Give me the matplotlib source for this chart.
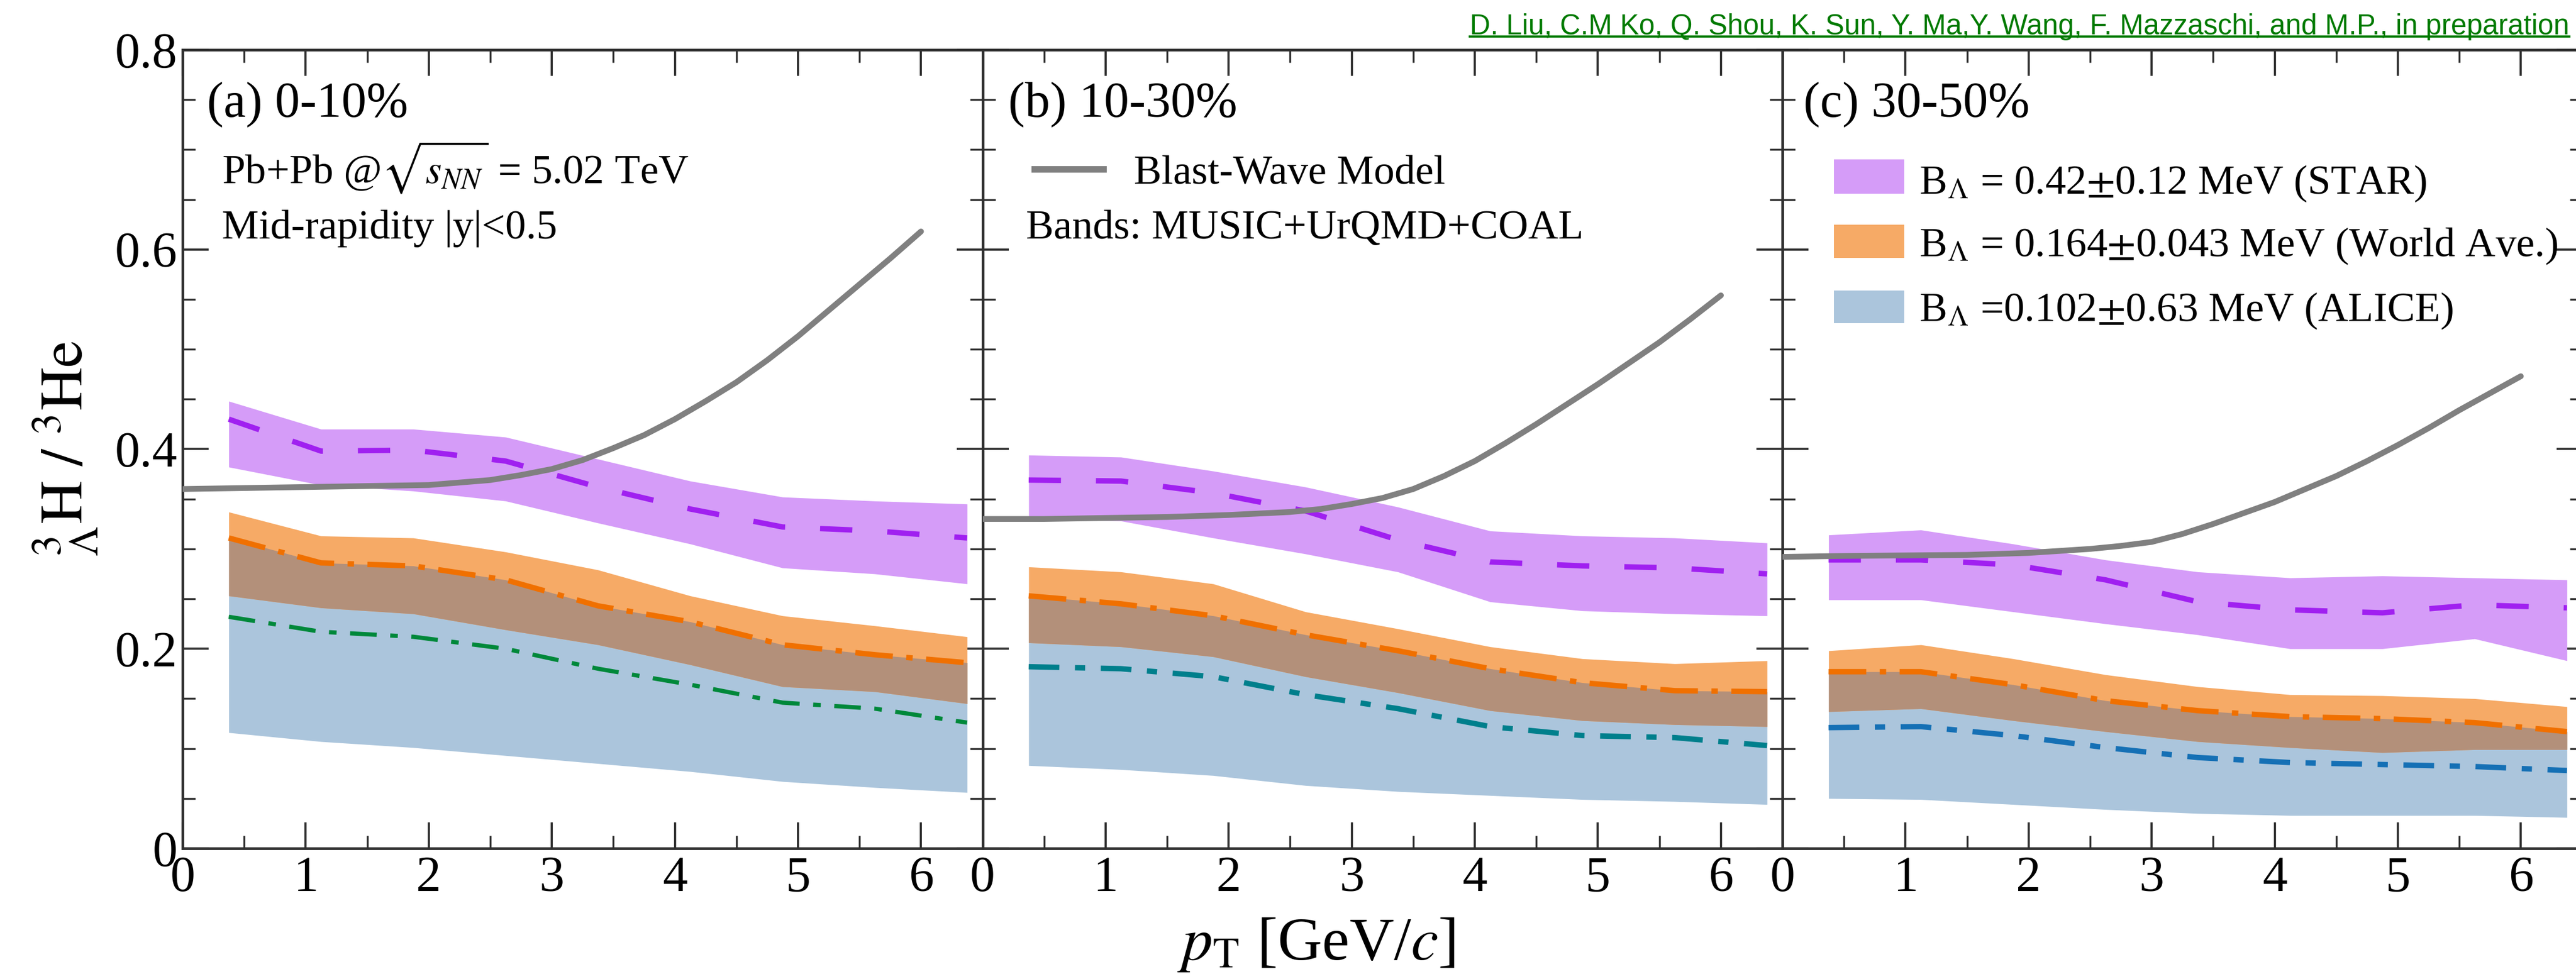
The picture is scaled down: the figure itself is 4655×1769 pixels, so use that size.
import numpy as np
import matplotlib
matplotlib.use('Agg')
import matplotlib.pyplot as plt
from matplotlib.ticker import MultipleLocator, FuncFormatter
from matplotlib.patches import Rectangle
from matplotlib.lines import Line2D

plt.rcParams['font.family'] = ['Liberation Serif', 'DejaVu Serif']
plt.rcParams['mathtext.fontset'] = 'stix'

# ── data ─────────────────────────────────────────────────────────────────────
panel_tags = ['(a) 0-10%', '(b) 10-30%', '(c) 30-50%']

# pT nodes of the coalescence bands
pt_nodes = [0.375, 1.125, 1.875, 2.625, 3.375, 4.125, 4.875, 5.625, 6.375]

# B_Λ = 0.42 MeV (STAR)
star_hi = [[0.448, 0.420, 0.420, 0.412, 0.390, 0.368, 0.352, 0.348, 0.345],
           [0.394, 0.392, 0.378, 0.362, 0.342, 0.318, 0.313, 0.311, 0.306],
           [0.314, 0.319, 0.305, 0.289, 0.277, 0.271, 0.273, 0.271, 0.269]]
star_mid = [[0.430, 0.398, 0.399, 0.388, 0.362, 0.340, 0.322, 0.318, 0.311],
            [0.369, 0.368, 0.356, 0.338, 0.309, 0.287, 0.283, 0.281, 0.275],
            [0.289, 0.289, 0.284, 0.269, 0.247, 0.239, 0.236, 0.244, 0.241]]
star_lo = [[0.382, 0.364, 0.358, 0.348, 0.326, 0.305, 0.281, 0.275, 0.265],
           [0.330, 0.328, 0.311, 0.295, 0.277, 0.247, 0.238, 0.235, 0.233],
           [0.249, 0.249, 0.237, 0.225, 0.214, 0.200, 0.200, 0.210, 0.188]]

# B_Λ = 0.164 MeV (world average)
world_hi = [[0.337, 0.313, 0.311, 0.297, 0.279, 0.253, 0.233, 0.223, 0.212],
            [0.282, 0.277, 0.265, 0.237, 0.220, 0.202, 0.190, 0.185, 0.188],
            [0.198, 0.204, 0.190, 0.174, 0.162, 0.154, 0.153, 0.150, 0.142]]
world_mid = [[0.311, 0.286, 0.283, 0.269, 0.243, 0.227, 0.204, 0.194, 0.186],
             [0.253, 0.245, 0.233, 0.214, 0.198, 0.180, 0.166, 0.158, 0.157],
             [0.177, 0.177, 0.164, 0.148, 0.138, 0.132, 0.130, 0.126, 0.117]]
world_lo = [[0.253, 0.241, 0.235, 0.219, 0.204, 0.184, 0.162, 0.157, 0.145],
            [0.206, 0.202, 0.192, 0.172, 0.156, 0.138, 0.128, 0.124, 0.122],
            [0.137, 0.140, 0.128, 0.117, 0.107, 0.101, 0.096, 0.099, 0.099]]

# B_Λ = 0.102 MeV (ALICE)
alice_hi = [[0.311, 0.286, 0.283, 0.269, 0.243, 0.227, 0.204, 0.194, 0.186],
            [0.253, 0.245, 0.233, 0.214, 0.198, 0.180, 0.166, 0.158, 0.157],
            [0.177, 0.177, 0.164, 0.148, 0.138, 0.132, 0.130, 0.126, 0.117]]
alice_mid = [[0.232, 0.217, 0.212, 0.200, 0.180, 0.164, 0.146, 0.140, 0.126],
             [0.182, 0.180, 0.172, 0.154, 0.140, 0.122, 0.113, 0.111, 0.103],
             [0.121, 0.122, 0.113, 0.101, 0.091, 0.086, 0.084, 0.082, 0.078]]
alice_lo = [[0.116, 0.107, 0.101, 0.093, 0.085, 0.077, 0.067, 0.061, 0.056],
            [0.083, 0.079, 0.073, 0.063, 0.057, 0.053, 0.049, 0.047, 0.044],
            [0.050, 0.049, 0.044, 0.039, 0.035, 0.033, 0.033, 0.033, 0.031]]

# blast-wave curves
bw_pt = [0, 0.5, 1, 1.5, 2, 2.5, 2.75, 3, 3.25, 3.5, 3.75, 4, 4.25, 4.5, 4.75,
         5, 5.25, 5.5, 5.75, 6]
bw_ratio = [[0.360, 0.361, 0.362, 0.363, 0.364, 0.369, 0.374, 0.380, 0.389, 0.401, 0.414,
             0.430, 0.448, 0.467, 0.489, 0.513, 0.539, 0.565, 0.591, 0.618],
            [0.330, 0.330, 0.331, 0.332, 0.334, 0.337, 0.340, 0.345, 0.351, 0.360, 0.373,
             0.388, 0.406, 0.425, 0.445, 0.465, 0.486, 0.507, 0.530, 0.554],
            [0.292, 0.293, 0.2935, 0.294, 0.296, 0.300, 0.303, 0.307, 0.315, 0.325, 0.336,
             0.347, 0.360, 0.373, 0.388, 0.404, 0.421, 0.439, 0.456, 0.473]]

band_labels = [r'B$_{\Lambda}$ = 0.42$\pm$0.12 MeV (STAR)',
               r'B$_{\Lambda}$ = 0.164$\pm$0.043 MeV (World Ave.)',
               r'B$_{\Lambda}$ =0.102$\pm$0.63 MeV (ALICE)']
cite = ('D. Liu, C.M Ko, Q. Shou, K. Sun, Y. Ma,Y. Wang, F. Mazzaschi, '
        'and M.P., in preparation')

# ── style ────────────────────────────────────────────────────────────────────
c_star, c_world, c_alice, c_both = '#d59cf8', '#f6aa66', '#abc5dc', '#b3907a'
c_star_line, c_world_line = '#a020f0', '#f07000'
c_alice_line = ['#00883a', '#007f8c', '#1570b5']
c_bw = '#808080'
spine_c = '#303030'

W, H = 4655, 1769
left_px = [330, 1775.5, 3221]
width_px = 1445.5
top_px, bot_px = 90, 1533

fig = plt.figure(figsize=(W / 100, H / 100), dpi=100)

axes = []
for i, lp in enumerate(left_px):
    ax = fig.add_axes([lp / W, 1 - bot_px / H, width_px / W, (bot_px - top_px) / H])
    axes.append(ax)
    x = np.array(pt_nodes)

    ax.fill_between(x, alice_lo[i], alice_hi[i], color=c_alice, lw=0, zorder=1)
    ax.fill_between(x, world_lo[i], world_hi[i], color=c_world, lw=0, zorder=2)
    ov_lo = np.maximum(world_lo[i], alice_lo[i])
    ov_hi = np.minimum(world_hi[i], alice_hi[i])
    ax.fill_between(x, ov_lo, ov_hi, where=ov_hi > ov_lo, color=c_both, lw=0, zorder=3)
    ax.fill_between(x, star_lo[i], star_hi[i], color=c_star, lw=0, zorder=2)

    lw_a = 5.5 if i == 0 else 7
    dd = (6.3, 3.2, 1.8, 3.2) if i == 0 else (5.7, 2.9, 1.9, 2.9)
    ax.plot(x, alice_mid[i], color=c_alice_line[i], lw=lw_a, ls=(0, dd), zorder=4)
    ax.plot(x, world_mid[i], color=c_world_line, lw=7, ls=(0, (7, 2.5, 1.2, 2.5)), zorder=4)
    ax.plot(x, star_mid[i], color=c_star_line, lw=7, ls=(0, (6, 6.5)), zorder=4)
    ax.plot(bw_pt, bw_ratio[i], color=c_bw, lw=7.5, solid_capstyle='round',
            solid_joinstyle='round', zorder=5)

    ax.set_xlim(0, 6.5)
    ax.set_ylim(0, 0.8)
    ax.xaxis.set_major_locator(MultipleLocator(1))
    ax.xaxis.set_minor_locator(MultipleLocator(0.5))
    ax.yaxis.set_major_locator(MultipleLocator(0.2))
    ax.yaxis.set_minor_locator(MultipleLocator(0.05))
    ax.tick_params(which='both', direction='in', top=True, right=True,
                   color=spine_c, labelsize=65)
    ax.tick_params(which='major', length=34, width=2.8)
    ax.tick_params(which='minor', length=16.5, width=2.5)
    ax.tick_params(axis='x', pad=10)
    ax.tick_params(axis='y', pad=7)
    ax.yaxis.set_major_formatter(FuncFormatter(lambda v, _: '0' if v == 0 else f'{v:.1f}'))
    if i > 0:
        ax.tick_params(axis='y', labelleft=False)
    for s in ax.spines.values():
        s.set_linewidth(3.5)
        s.set_color(spine_c)

    ax.text(0.20 if i == 0 else (0.21 if i == 1 else 0.17), 0.733, panel_tags[i],
            fontsize=65, va='baseline')

# panel (a) annotations
axes[0].text(0.32, 0.666, r'Pb+Pb @$\sqrt{s_{NN}}$ = 5.02 TeV', fontsize=54, va='baseline')
axes[0].text(0.32, 0.611, 'Mid-rapidity |y|<0.5', fontsize=54, va='baseline')

# panel (b): blast-wave key and band note
axes[1].plot([0.40, 1.01], [0.680, 0.680], color=c_bw, lw=8.5, solid_capstyle='butt')
axes[1].text(1.23, 0.666, 'Blast-Wave Model', fontsize=54, va='baseline')
axes[1].text(0.355, 0.611, 'Bands: MUSIC+UrQMD+COAL', fontsize=54, va='baseline')

# panel (c): band key
for k, (fc, lab) in enumerate(zip([c_star, c_world, c_alice], band_labels)):
    y_lo = [0.656, 0.5915, 0.526][k]
    y_hi = [0.690, 0.6248, 0.559][k]
    axes[2].add_patch(Rectangle((0.42, y_lo), 0.57, y_hi - y_lo, color=fc, lw=0, zorder=6))
    axes[2].text(1.11, [0.656, 0.593, 0.528][k], lab, fontsize=54, va='baseline', zorder=6)

# axis titles
fig.text(119 / W, 1 - 811 / H, r'${}^{3}_{\Lambda}\mathrm{H}\ /\ {}^{3}\mathrm{He}$',
         fontsize=78, rotation=90, ha='center', va='center')
fig.text(2378 / W, 1 - 1707 / H, r'$p_{\mathrm{T}}$ [GeV/$c$]',
         fontsize=80, ha='center', va='center')

# reference line, underlined
t = fig.text(4643 / W, 1 - 62 / H, cite, ha='right', va='baseline', fontsize=37,
             family='Liberation Sans', color='#007a00')
fig.canvas.draw()
bb = t.get_window_extent(renderer=fig.canvas.get_renderer())
uy = 1 - 66 / H
fig.add_artist(Line2D([bb.x0 / W, bb.x1 / W], [uy, uy], color='#007a00', lw=2.8,
                      transform=fig.transFigure))

fig.savefig('out.png', dpi=100)
